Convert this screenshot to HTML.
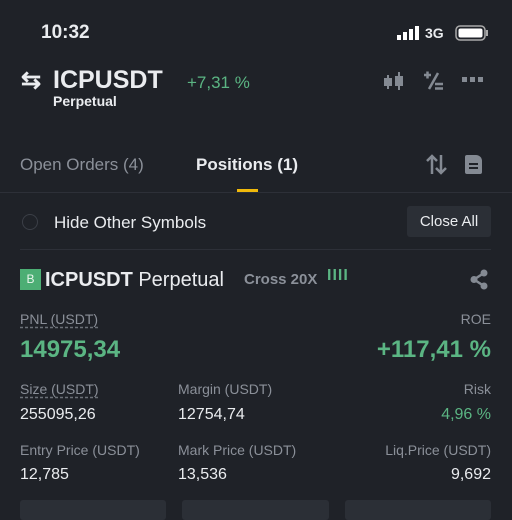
<!DOCTYPE html>
<html><head><meta charset="utf-8"><style>
body{margin:0;width:512px;height:512px;background:#1f2228;overflow:hidden;position:relative;font-family:"Liberation Sans",sans-serif;color:#eaecef}
.a{position:absolute;white-space:nowrap;line-height:1}
.g{color:#8b9099}.gr{color:#5bb583}
.u{text-decoration:underline dashed #6b7078;text-underline-offset:3px}
</style></head><body>
<div class="a" style="left:41px;top:23px;font-size:19px;font-weight:bold">10:32</div>
<svg class="a" style="left:397px;top:26px" width="24" height="14"><rect x="0" y="9" width="4" height="5" fill="#fff"/><rect x="6" y="6" width="4" height="8" fill="#fff"/><rect x="12" y="3" width="4" height="11" fill="#fff"/><rect x="18" y="0" width="4" height="14" fill="#fff"/></svg>
<div class="a" style="left:425px;top:26px;font-size:14px;font-weight:bold">3G</div>
<svg class="a" style="left:455px;top:25px" width="34" height="16"><rect x="1" y="1" width="29" height="14" rx="4" fill="none" stroke="#aaa" stroke-width="1.5"/><rect x="3.5" y="3.5" width="24" height="9" rx="2" fill="#fff"/><rect x="31" y="5" width="2" height="6" fill="#aaa"/></svg>
<div class="a" style="left:21px;top:69px;font-size:24px;font-weight:bold">⇆</div>
<div class="a" style="left:53px;top:68px;font-size:25px;font-weight:bold">ICPUSDT</div>
<div class="a gr" style="left:187px;top:74px;font-size:17px">+7,31 %</div>
<div class="a" style="left:53px;top:94px;font-size:14px;font-weight:bold">Perpetual</div>
<svg class="a" style="left:383px;top:71px" width="22" height="20"><rect x="1" y="7" width="8" height="8" fill="#848a93"/><rect x="4" y="4" width="2" height="14" fill="#848a93"/><rect x="12" y="5" width="8" height="10" fill="#848a93"/><rect x="15" y="1" width="2" height="18" fill="#848a93"/></svg>
<svg class="a" style="left:423px;top:71px" width="21" height="20"><path d="M1 4h7M4.5 0.5v7" stroke="#848a93" stroke-width="2.5"/><path d="M15 2L6 18" stroke="#848a93" stroke-width="2.5"/><path d="M12 13h8M12 17.5h8" stroke="#848a93" stroke-width="2.5"/></svg>
<svg class="a" style="left:462px;top:77px" width="22" height="6"><rect x="0" y="0" width="5" height="5" fill="#848a93"/><rect x="8" y="0" width="5" height="5" fill="#848a93"/><rect x="16" y="0" width="5" height="5" fill="#848a93"/></svg>
<div class="a g" style="left:20px;top:156px;font-size:17px">Open Orders (4)</div>
<div class="a" style="left:196px;top:156px;font-size:17px;font-weight:bold">Positions (1)</div>
<div class="a" style="left:237px;top:189px;width:21px;height:3px;background:#f0b90b"></div>
<svg class="a" style="left:426px;top:154px" width="21" height="21"><path d="M6 20V2M1 7l5-5 5 5M15 1v18M10 14l5 5 5-5" stroke="#848a93" stroke-width="2.5" fill="none"/></svg>
<div class="a" style="left:465px;top:155px;width:17px;height:19px;background:#848a93;border-radius:2px 6px 2px 2px"><div style="position:absolute;left:4px;top:8px;width:9px;height:2px;background:#1f2228"></div><div style="position:absolute;left:4px;top:12px;width:9px;height:2px;background:#1f2228"></div></div>
<div class="a" style="left:0;top:192px;width:512px;height:1px;background:#2d3038"></div>
<div class="a" style="left:22px;top:214px;width:14px;height:14px;border:1.5px solid #3b3f47;border-radius:50%"></div>
<div class="a" style="left:54px;top:214px;font-size:17px">Hide Other Symbols</div>
<div class="a" style="left:407px;top:206px;width:84px;height:31px;background:#2b2f36;border-radius:3px;font-size:15px;line-height:31px;text-align:center">Close All</div>
<div class="a" style="left:20px;top:249px;width:471px;height:1px;background:#2d3038"></div>
<div class="a" style="left:20px;top:269px;width:21px;height:21px;background:#4cae74;font-size:12px;line-height:21px;text-align:center;color:#e8f5ec">B</div>
<div class="a" style="left:45px;top:270px;font-size:20px;font-weight:bold">ICPUSDT <span style="font-weight:normal">Perpetual</span></div>
<div class="a g" style="left:244px;top:272px;font-size:15px;font-weight:bold">Cross 20X</div>
<div class="a gr" style="left:327px;top:268px;font-size:16px;font-weight:bold;letter-spacing:1px">IIII</div>
<svg class="a" style="left:469px;top:269px" width="20" height="21"><path d="M15 4L5 10.5 15 17" stroke="#848a93" stroke-width="2.5" fill="none"/><circle cx="15" cy="4" r="3.5" fill="#848a93"/><circle cx="5" cy="10.5" r="3.5" fill="#848a93"/><circle cx="15" cy="17" r="3.5" fill="#848a93"/></svg>
<div class="a g u" style="left:20px;top:312px;font-size:14px">PNL (USDT)</div>
<div class="a gr" style="left:20px;top:338px;font-size:24px;font-weight:bold">14975,34</div>
<div class="a g" style="right:21px;top:312px;font-size:14px">ROE</div>
<div class="a gr" style="right:21px;top:338px;font-size:24px;font-weight:bold">+117,41 %</div>
<div class="a g u" style="left:20px;top:382px;font-size:14px">Size (USDT)</div>
<div class="a" style="left:20px;top:407px;font-size:16px">255095,26</div>
<div class="a g" style="left:178px;top:382px;font-size:14px">Margin (USDT)</div>
<div class="a" style="left:178px;top:407px;font-size:16px">12754,74</div>
<div class="a g" style="right:21px;top:382px;font-size:14px">Risk</div>
<div class="a gr" style="right:21px;top:407px;font-size:16px">4,96 %</div>
<div class="a g" style="left:20px;top:443px;font-size:14px">Entry Price (USDT)</div>
<div class="a" style="left:20px;top:467px;font-size:16px">12,785</div>
<div class="a g" style="left:178px;top:443px;font-size:14px">Mark Price (USDT)</div>
<div class="a" style="left:178px;top:467px;font-size:16px">13,536</div>
<div class="a g" style="right:21px;top:443px;font-size:14px">Liq.Price (USDT)</div>
<div class="a" style="right:21px;top:467px;font-size:16px">9,692</div>
<div class="a" style="left:20px;top:500px;width:146px;height:20px;background:#2b2f36;border-radius:3px"></div>
<div class="a" style="left:182px;top:500px;width:147px;height:20px;background:#2b2f36;border-radius:3px"></div>
<div class="a" style="left:345px;top:500px;width:146px;height:20px;background:#2b2f36;border-radius:3px"></div>
</body></html>
